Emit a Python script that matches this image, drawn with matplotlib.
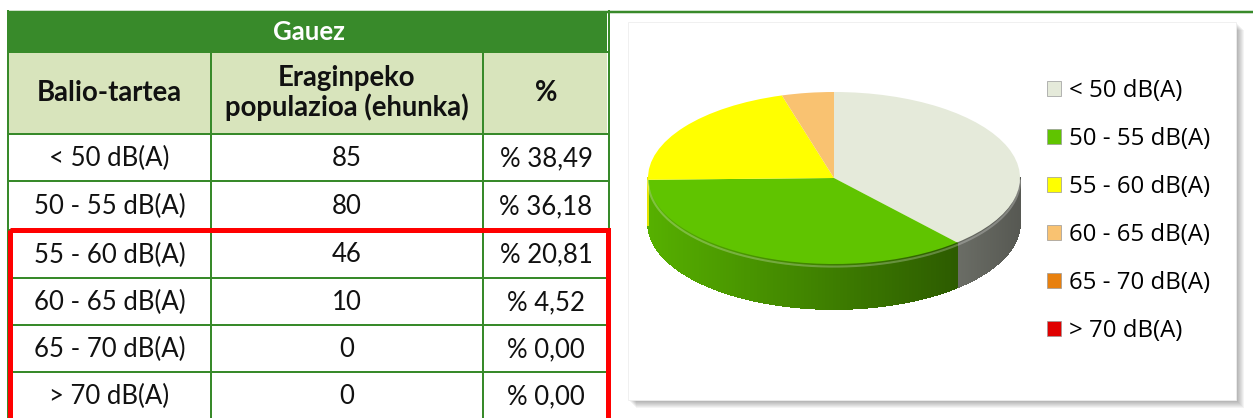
import numpy as np
import matplotlib.pyplot as plt
from matplotlib.patches import Rectangle
from matplotlib.collections import PolyCollection
from matplotlib.colors import to_rgb

# data from the table
categories = ['< 50 dB(A)', '50 - 55 dB(A)', '55 - 60 dB(A)', '60 - 65 dB(A)', '65 - 70 dB(A)', '> 70 dB(A)']
population = [85, 80, 46, 10, 0, 0]
percent = [38.49, 36.18, 20.81, 4.52, 0.00, 0.00]
title = 'Gauez'
headers = ['Balio-tartea', 'Eraginpeko\npopulazioa (ehunka)', '%']

pie_colors = ['#E5EADA', '#60C400', '#FFFF00', '#F9C271', '#E8800E', '#E00000']

GREEN = '#388A2A'
LIGHT = '#D8E4BC'
W, H = 1253, 418

plt.rcParams['font.family'] = 'Lato'

fig = plt.figure(figsize=(W / 100, H / 100), dpi=100)
ax = fig.add_axes([0, 0, 1, 1])
ax.set_xlim(0, W)
ax.set_ylim(H, 0)
ax.axis('off')

# ---- table (pixel layout) ----
col_x = [8, 211, 483, 609]
row_y = [11, 52, 134, 181, 230, 278, 325, 372, 419]
px = 72 / 100  # one pixel in points

ax.add_patch(Rectangle((col_x[0], row_y[0]), 599, row_y[1] - row_y[0], color=GREEN, lw=0))
ax.add_patch(Rectangle((col_x[0], row_y[1]), 599, row_y[2] - row_y[1], color=LIGHT, lw=0))
ax.plot([col_x[0], W], [12, 12], color=GREEN, lw=2.5 * px, solid_capstyle='butt')
for y in row_y[1:-1]:
    ax.plot([col_x[0], col_x[-1]], [y, y], color=GREEN, lw=2 * px)
for x in col_x:
    top = row_y[0] if x in (col_x[0], col_x[-1]) else row_y[1]
    ax.plot([x, x], [top, H + 5], color=GREEN, lw=2 * px)

fs = 18.5
ax.text((col_x[0] + col_x[-1]) / 2, 32, title, color='white', fontsize=fs, fontweight='bold',
        ha='center', va='center')
hy = (row_y[1] + row_y[2]) / 2
for i, h in enumerate(headers):
    cx = (col_x[i] + col_x[i + 1]) / 2
    ax.text(cx, hy, h, fontsize=19.8, fontweight='bold', ha='center', va='center',
            linespacing=1.1, color='#111111')

for r, (cat, pop, pc) in enumerate(zip(categories, population, percent)):
    cy = (row_y[r + 2] + row_y[r + 3]) / 2 + 1
    vals = [cat, str(pop), '% ' + f'{pc:.2f}'.replace('.', ',')]
    for i, v in enumerate(vals):
        cx = (col_x[i] + col_x[i + 1]) / 2
        ax.text(cx, cy, v, fontsize=fs, ha='center', va='center', color='#111111')

# red highlight box around the rows above 55 dB(A)
ax.add_patch(Rectangle((9.5, 229.5), 598.5, 200, fill=False, edgecolor='#FF0000',
                       lw=5 * px, clip_on=False, zorder=5))

# ---- chart panel with shadow ----
pl, pt, pr, pb = 628, 22, 1236, 400
for k in range(1, 9):
    ax.add_patch(Rectangle((pl + k, pt + k), pr - pl, pb - pt, color='black', alpha=0.045, lw=0))
ax.add_patch(Rectangle((pl, pt), pr - pl, pb - pt, facecolor='white', edgecolor='#EEEEEE', lw=0.6))

# ---- 3D-looking pie ----
cx_px, cy_px, rx_px, ry_px, depth_px = 834, 178, 186, 86, 45
xl, yl = (-1.2, 1.2), (-1.85, 1.2)
d = depth_px / ry_px
left = cx_px + xl[0] * rx_px
width = (xl[1] - xl[0]) * rx_px
top = cy_px - yl[1] * ry_px
height = (yl[1] - yl[0]) * ry_px
pax = fig.add_axes([left / W, (H - top - height) / H, width / W, height / H])
pax.patch.set_alpha(0)

total = sum(percent)
fracs = np.array(percent) / total
ends = np.cumsum(fracs)
starts = ends - fracs

# side wall, shaded darker towards the right
polys, cols = [], []
for i in range(len(percent)):
    a_hi = 90 - 360 * starts[i]
    a_lo = 90 - 360 * ends[i]
    lo, hi = max(a_lo, -180), min(a_hi, 0)
    if hi <= lo:
        continue
    ts = np.radians(np.linspace(lo, hi, 120))
    base = np.array(to_rgb(pie_colors[i]))
    for t0, t1 in zip(ts[:-1], ts[1:]):
        xm = np.cos((t0 + t1) / 2)
        f = 0.9 - 0.26 * (xm + 1)
        polys.append([(np.cos(t0), np.sin(t0)), (np.cos(t1), np.sin(t1)),
                      (np.cos(t1), np.sin(t1) - d), (np.cos(t0), np.sin(t0) - d)])
        cols.append(np.clip(base * f, 0, 1))
side = PolyCollection(polys, facecolors=cols, edgecolors=cols, linewidths=0.6,
                      antialiaseds=False, zorder=1)
pax.add_collection(side)

wedges, _ = pax.pie(percent, colors=pie_colors, startangle=90, counterclock=False,
                    radius=1, wedgeprops=dict(linewidth=0, zorder=2))

# light rim on the front edge
tr = np.radians(np.linspace(-180, 0, 200))
pax.plot(np.cos(tr), np.sin(tr) - 0.03, color='white', alpha=0.25, lw=1.5, zorder=3)

pax.set_aspect('auto')
pax.set_xlim(*xl)
pax.set_ylim(*yl)
pax.axis('off')

leg = ax.legend(wedges, categories, loc='upper left', bbox_to_anchor=(1047, 79),
                bbox_transform=ax.transData, frameon=False, prop={'family': 'Open Sans', 'size': 17.3},
                handlelength=0.6, handleheight=0.6, handletextpad=0.3, labelspacing=1.0,
                borderpad=0, borderaxespad=0)
for h in leg.legend_handles:
    h.set_edgecolor('#999999')
    h.set_linewidth(0.5)

fig.savefig('out.png', dpi=100)
